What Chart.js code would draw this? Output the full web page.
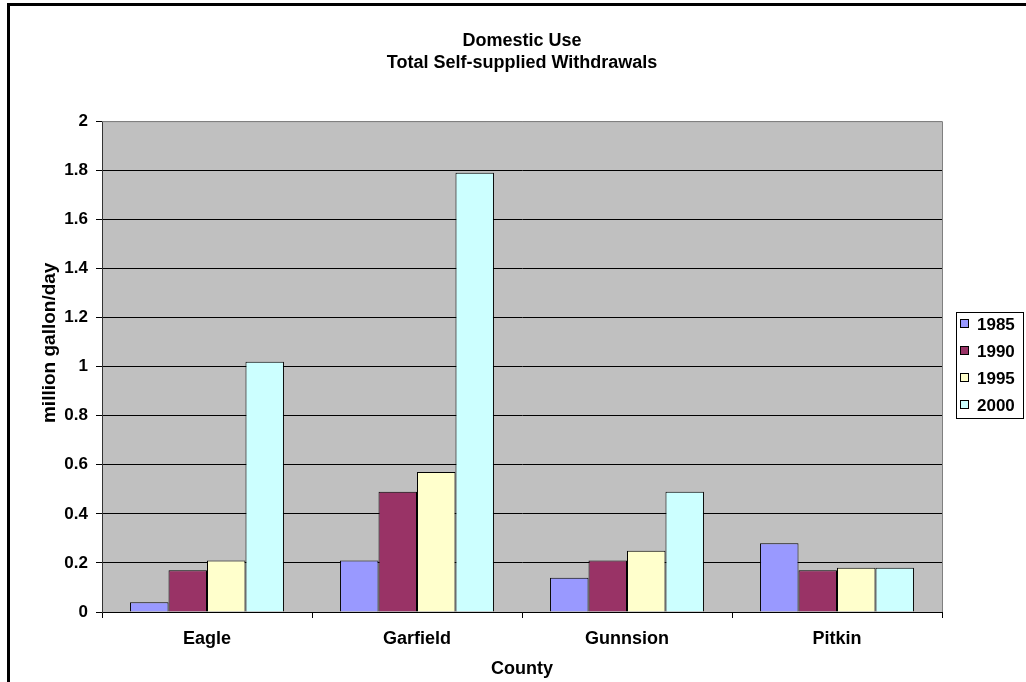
<!DOCTYPE html>
<html>
<head>
<meta charset="utf-8">
<script src="https://cdn.jsdelivr.net/npm/chart.js@4"></script>
<style>
  html, body { margin: 0; padding: 0; background: #fff; overflow: hidden; }
  #frame { position: absolute; left: 7px; top: 3px; width: 1040px; height: 700px; border: 3px solid #000; }
  #wrap { position: absolute; left: 0; top: 0; width: 1026px; height: 682px; }
</style>
</head>
<body>
<div id="frame"></div>
<div id="wrap"><canvas id="chart" width="1026" height="682"></canvas></div>
<script>
const counties = ["Eagle", "Garfield", "Gunnsion", "Pitkin"];
const years = ["1985", "1990", "1995", "2000"];
const v1985 = [0.04, 0.21, 0.14, 0.28];
const v1990 = [0.17, 0.49, 0.21, 0.17];
const v1995 = [0.21, 0.57, 0.25, 0.18];
const v2000 = [1.02, 1.79, 0.49, 0.18];
const colors = ["#9999FF", "#993366", "#FFFFCC", "#CCFFFF"];
const yMin = 0, yMax = 2, yStep = 0.2;

const FONT = "'Liberation Sans', Arial, sans-serif";
const series = [v1985, v1990, v1995, v2000];

// grey plot background with a grey frame
const plotBg = {
  id: "plotBg",
  beforeDraw(chart) {
    const { ctx, chartArea: a } = chart;
    ctx.save();
    ctx.fillStyle = "#C0C0C0";
    ctx.fillRect(a.left, a.top, a.right - a.left, a.bottom - a.top);
    ctx.restore();
  },
  afterDatasetsDraw(chart) {
    const { ctx, chartArea: a } = chart;
    ctx.save();
    ctx.strokeStyle = "#808080";
    ctx.lineWidth = 1;
    ctx.beginPath();
    ctx.moveTo(a.left, a.top + 0.5);
    ctx.lineTo(a.right + 0.5, a.top + 0.5);
    ctx.lineTo(a.right + 0.5, a.bottom);
    ctx.stroke();
    ctx.restore();
  }
};

// excel style boxed legend
const boxLegend = {
  id: "boxLegend",
  afterDraw(chart) {
    const ctx = chart.ctx;
    ctx.save();
    ctx.strokeStyle = "#000";
    ctx.lineWidth = 1;
    ctx.strokeRect(956.5, 312.5, 67, 106);
    ctx.font = "bold 17px " + FONT;
    ctx.textBaseline = "middle";
    ctx.textAlign = "left";
    chart.data.datasets.forEach((ds, i) => {
      const y = 324 + i * 27;
      ctx.fillStyle = ds.backgroundColor;
      ctx.fillRect(960.5, y - 4.5, 8, 8);
      ctx.strokeRect(960.5, y - 4.5, 8, 8);
      ctx.fillStyle = "#000";
      ctx.fillText(ds.label, 977, y + 1);
    });
    ctx.restore();
  }
};

new Chart(document.getElementById("chart"), {
  type: "bar",
  data: {
    labels: counties,
    datasets: years.map((yr, i) => ({
      label: yr,
      data: series[i],
      backgroundColor: colors[i],
      borderColor: "#000",
      borderWidth: 1,
      categoryPercentage: 0.733,
      barPercentage: 1
    }))
  },
  options: {
    responsive: false,
    devicePixelRatio: 1,
    animation: false,
    layout: { padding: { left: 10, right: 84, top: 0, bottom: 0 } },
    plugins: {
      legend: { display: false },
      tooltip: { enabled: false },
      title: {
        display: true,
        fullSize: false,
        text: ["Domestic Use", "Total Self-supplied Withdrawals"],
        color: "#000",
        font: { family: FONT, size: 18, weight: "bold", lineHeight: 1.17 },
        padding: { top: 31, bottom: 48 }
      }
    },
    scales: {
      x: {
        afterFit(s) { s.height = 70; },
        grid: { offset: true, drawOnChartArea: false, drawTicks: true, tickLength: 6, color: "#000" },
        border: { color: "#000" },
        ticks: { color: "#000", padding: 10, font: { family: FONT, size: 18, weight: "bold" } },
        title: {
          display: true, text: "County", color: "#000",
          font: { family: FONT, size: 18, weight: "bold" },
          padding: { top: 0, bottom: 2 }
        }
      },
      y: {
        min: yMin,
        max: yMax,
        afterFit(s) { s.width = 92; },
        grid: {
          color: ctx => (ctx.tick && ctx.tick.value >= yMax ? "#808080" : "#000"),
          tickColor: "#000",
          tickLength: 6
        },
        border: { color: "#333" },
        ticks: {
          stepSize: yStep,
          color: "#000",
          padding: 8,
          font: { family: FONT, size: 17, weight: "bold" },
          callback: v => String(+v.toFixed(1))
        },
        title: {
          display: true, text: "         million gallon/day", color: "#000",
          font: { family: FONT, size: 19, weight: "bold" },
          padding: { top: 28, bottom: 0 }
        }
      }
    }
  },
  plugins: [plotBg, boxLegend]
});
</script>
</body>
</html>
